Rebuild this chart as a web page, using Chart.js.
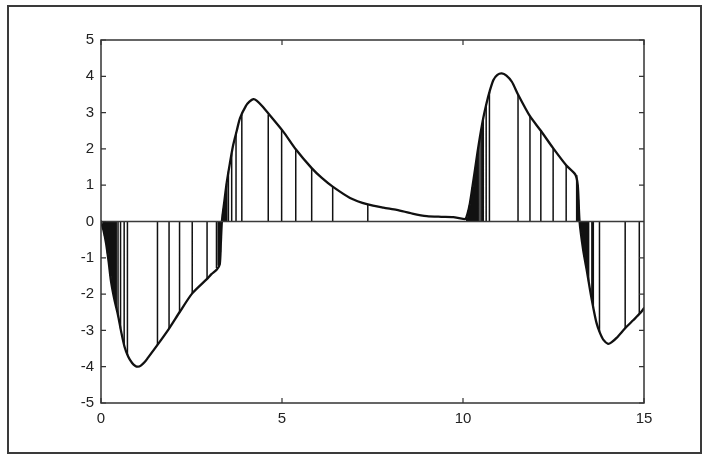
<!DOCTYPE html>
<html>
<head>
<meta charset="utf-8">
<script src="https://cdn.jsdelivr.net/npm/chart.js@4.4.1/dist/chart.umd.min.js"></script>
<style>
  html, body { margin: 0; padding: 0; background: #fff; }
  #wrap { position: relative; width: 705px; height: 455px; }
  #frame { position: absolute; left: 7px; top: 5px; width: 691px; height: 445px;
           border: 2px solid #3a3a3a; pointer-events: none; }
</style>
</head>
<body>
<div id="wrap">
  <canvas id="c" width="705" height="455"></canvas>
  <div id="frame"></div>
</div>
<script>
// ---- data ----
const curveX = [0, 0.07, 0.14, 0.21, 0.28, 0.37, 0.47, 0.56, 0.65, 0.75, 0.86, 0.95, 1.02, 1.1, 1.2, 1.3,
  1.56, 1.88, 2.17, 2.52, 2.93, 3.05, 3.2, 3.28, 3.31, 3.34, 3.40, 3.47, 3.56, 3.65, 3.75, 3.84, 4.0, 4.1,
  4.21, 4.3, 4.45, 4.67, 5.04, 5.38, 5.82, 6.1, 6.4, 6.88, 7.37, 7.8, 8.17, 8.6, 9.0, 9.4, 9.73, 10.06,
  10.12, 10.19, 10.26, 10.33, 10.4, 10.47, 10.56, 10.65, 10.74, 10.84, 10.95, 11.07, 11.2, 11.35, 11.52,
  11.85, 12.15, 12.49, 12.85, 13.1, 13.17, 13.22, 13.32, 13.42, 13.51, 13.6, 13.69, 13.78, 13.88, 14.01,
  14.1, 14.25, 14.48, 14.7, 14.89, 15.0];
const curveY = [0, -0.25, -0.6, -1.1, -1.67, -2.15, -2.58, -3.05, -3.45, -3.72, -3.9, -3.98, -4.0, -3.97, -3.88, -3.75,
  -3.4, -2.95, -2.5, -1.98, -1.58, -1.45, -1.32, -1.18, -0.6, 0, 0.5, 1.05, 1.6, 2.1, 2.5, 2.85, 3.18, 3.3,
  3.37, 3.33, 3.18, 2.92, 2.47, 1.99, 1.47, 1.2, 0.96, 0.65, 0.47, 0.38, 0.32, 0.22, 0.15, 0.13, 0.12, 0.07,
  0.2, 0.5, 0.95, 1.42, 1.9, 2.34, 2.85, 3.26, 3.6, 3.9, 4.04, 4.08, 4.02, 3.85, 3.5,
  2.9, 2.5, 2.02, 1.55, 1.3, 1.0, 0, -0.79, -1.35, -1.89, -2.38, -2.8, -3.06, -3.26, -3.37,
  -3.33, -3.2, -2.94, -2.72, -2.53, -2.39];

const stemX = [0.06, 0.10, 0.14, 0.18, 0.22, 0.26, 0.30, 0.34, 0.38, 0.42, 0.47, 0.54, 0.64, 0.73,
  1.56, 1.88, 2.17, 2.52, 2.93, 3.19, 3.24, 3.28, 3.30, 3.32,
  3.36, 3.38, 3.40, 3.43, 3.47, 3.52, 3.61, 3.73, 3.89, 4.62, 4.99, 5.38, 5.82, 6.4, 7.37,
  10.10, 10.14, 10.18, 10.22, 10.26, 10.30, 10.34, 10.38, 10.42, 10.47, 10.52, 10.56, 10.64, 10.73,
  11.52, 11.85, 12.15, 12.49, 12.85, 13.14, 13.17, 13.19,
  13.23, 13.26, 13.29, 13.32, 13.35, 13.39, 13.43, 13.47, 13.56, 13.60, 13.77, 14.48, 14.87];
const stemY = [-0.2, -0.4, -0.6, -0.88, -1.17, -1.5, -1.78, -2.0, -2.2, -2.38, -2.58, -2.95, -3.4, -3.68,
  -3.4, -2.95, -2.5, -1.98, -1.58, -1.28, -1.22, -1.18, -0.85, -0.4,
  0.2, 0.35, 0.5, 0.75, 1.05, 1.38, 1.88, 2.45, 2.95, 2.95, 2.52, 1.99, 1.47, 0.96, 0.47,
  0.12, 0.3, 0.45, 0.7, 0.95, 1.22, 1.48, 1.76, 2.03, 2.34, 2.62, 2.85, 3.22, 3.57,
  3.5, 2.9, 2.5, 2.02, 1.55, 1.28, 1.0, 0.6,
  -0.1, -0.3, -0.55, -0.79, -0.97, -1.2, -1.42, -1.65, -2.15, -2.38, -3.04, -2.94, -2.55];

const xTickValues = [0, 5, 10, 15];
const xTickLabels = ['0', '5', '10', '15'];
const yTickValues = [-5, -4, -3, -2, -1, 0, 1, 2, 3, 4, 5];
const yTickLabels = ['-5', '-4', '-3', '-2', '-1', '0', '1', '2', '3', '4', '5'];
const xRange = [0, 15];
const yRange = [-5, 5];

// ---- build library structures ----
const curveData = curveX.map((x, i) => ({ x: x, y: curveY[i] }));
const stemData = [];
stemX.forEach((x, i) => {
  stemData.push({ x: x, y: 0 });
  stemData.push({ x: x, y: stemY[i] });
  stemData.push({ x: x, y: null });
});
const baseData = [{ x: xRange[0], y: 0 }, { x: xRange[1], y: 0 }];

const boxPlugin = {
  id: 'box',
  afterDatasetsDraw(chart) {
    const ctx = chart.ctx;
    const a = chart.chartArea;
    const xs = chart.scales.x, ys = chart.scales.y;
    ctx.save();
    ctx.strokeStyle = '#333';
    ctx.lineWidth = 1.5;
    ctx.strokeRect(a.left, a.top, a.right - a.left, a.bottom - a.top);
    ctx.lineWidth = 1.2;
    const L = 5;
    ctx.beginPath();
    xTickValues.forEach(v => {
      const px = xs.getPixelForValue(v);
      ctx.moveTo(px, a.bottom); ctx.lineTo(px, a.bottom - L);
      ctx.moveTo(px, a.top); ctx.lineTo(px, a.top + L);
    });
    yTickValues.forEach(v => {
      const py = ys.getPixelForValue(v);
      ctx.moveTo(a.left, py); ctx.lineTo(a.left + L, py);
      ctx.moveTo(a.right, py); ctx.lineTo(a.right - L, py);
    });
    ctx.stroke();
    ctx.restore();
  }
};

new Chart(document.getElementById('c'), {
  type: 'line',
  data: {
    datasets: [
      { data: baseData, borderColor: '#3a3a3a', borderWidth: 1.6, pointRadius: 0, tension: 0 },
      { data: stemData, borderColor: '#111', borderWidth: 1.5, pointRadius: 0, tension: 0, spanGaps: false },
      { data: curveData, borderColor: '#111', borderWidth: 2.3, pointRadius: 0, tension: 0.25,
        borderJoinStyle: 'round', borderCapStyle: 'round' }
    ]
  },
  options: {
    responsive: false,
    animation: false,
    devicePixelRatio: 1,
    layout: { padding: { top: 40, right: 61, left: 0, bottom: 0 } },
    plugins: { legend: { display: false }, tooltip: { enabled: false } },
    scales: {
      x: {
        type: 'linear', min: xRange[0], max: xRange[1],
        grid: { display: false, drawTicks: false },
        border: { display: false },
        afterBuildTicks(scale) { scale.ticks = xTickValues.map(v => ({ value: v })); },
        afterFit(scale) { scale.height = 52; },
        ticks: {
          padding: 7, color: '#222', maxRotation: 0,
          font: { family: 'Liberation Sans, Arial, sans-serif', size: 15 },
          callback: (v) => xTickLabels[xTickValues.indexOf(v)]
        }
      },
      y: {
        type: 'linear', min: yRange[0], max: yRange[1],
        grid: { display: false, drawTicks: false },
        border: { display: false },
        afterBuildTicks(scale) { scale.ticks = yTickValues.map(v => ({ value: v })); },
        afterFit(scale) { scale.width = 101; },
        ticks: {
          padding: 7, color: '#222',
          font: { family: 'Liberation Sans, Arial, sans-serif', size: 15 },
          callback: (v) => yTickLabels[yTickValues.indexOf(v)]
        }
      }
    }
  },
  plugins: [boxPlugin]
});
</script>
</body>
</html>
